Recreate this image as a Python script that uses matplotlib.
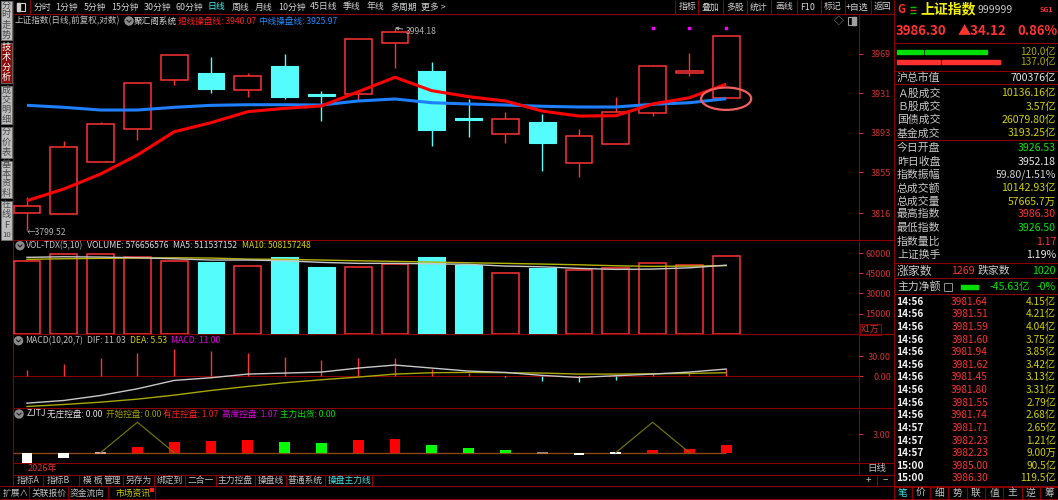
import numpy as np
import matplotlib
matplotlib.use('Agg')
import matplotlib.pyplot as plt
from matplotlib.patches import Rectangle, Ellipse, Circle
from matplotlib.transforms import blended_transform_factory

plt.rcParams['font.family'] = ['Noto Sans CJK SC', 'DejaVu Sans']
plt.rcParams['axes.unicode_minus'] = False

# ---------------- data ----------------
opens  = [3816.3, 3815.0, 3864.8, 3896.8, 3944.0, 3951.0, 3934.1, 3957.7, 3930.5, 3930.8,
          3979.9, 3953.0, 3907.2, 3891.7, 3903.8, 3863.8, 3882.1, 3912.5, 3950.7, 3926.53]
highs  = [3831.7, 3885.3, 3903.3, 3941.4, 3967.7, 3966.4, 3951.0, 3969.0, 3933.1, 3983.1,
          3994.18, 3961.6, 3925.7, 3913.5, 3911.3, 3896.8, 3927.3, 3958.7, 3970.3, 3986.30]
lows   = [3799.52, 3815.0, 3864.8, 3886.2, 3939.2, 3931.8, 3927.9, 3925.7, 3904.8, 3924.7,
          3955.8, 3880.5, 3888.8, 3883.6, 3856.1, 3850.9, 3882.1, 3909.3, 3947.8, 3926.50]
closes = [3822.7, 3879.2, 3901.3, 3941.4, 3967.7, 3935.0, 3947.8, 3927.9, 3929.0, 3983.1,
          3990.5, 3895.9, 3905.8, 3906.2, 3883.0, 3890.4, 3913.5, 3957.5, 3952.18, 3986.30]
short_line = [3827.8, 3839.1, 3853.5, 3871.8, 3894.2, 3902.9, 3913.5, 3916.7, 3919.0, 3932.7,
              3946.6, 3933.7, 3927.9, 3923.8, 3914.1, 3909.3, 3909.6, 3920.9, 3926.9, 3940.07]
mid_line = [3919.6, 3917.7, 3915.1, 3915.1, 3917.7, 3919.6, 3920.2, 3920.2, 3919.9, 3923.8,
            3925.7, 3922.1, 3920.9, 3919.9, 3918.7, 3918.0, 3918.0, 3920.6, 3922.1, 3925.97]
signal_days = [17, 18, 19]
price_ticks = [3816, 3855, 3893, 3931, 3969]

volumes = [54450, 59475, 59250, 57000, 54450, 53250, 50700, 57450, 49950, 49725,
           51750, 57450, 51225, 45000, 49200, 47250, 48975, 52500, 51450, 57665.7]
vol_ma5 = [57000, 57450, 57225, 56700, 55950, 55000, 55000, 54450, 53250, 52500,
           52500, 52200, 51750, 50475, 49950, 48750, 48000, 48225, 49200, 51153.7]
vol_ma10 = [55500, 55950, 56250, 56475, 56700, 56475, 55725, 55500, 55000, 54450,
            54000, 53475, 52950, 52500, 51975, 51450, 50700, 50250, 50475, 50815.7]
vol_ticks = [15000, 30000, 45000, 60000]

macd_dif = [-40, -36, -28.5, -18.5, -6, -2, 3.5, 5, 6.5, 12.5,
            17, 12.5, 8, 6, 1.5, -1.5, 1, 3.5, 6.5, 11.03]
macd_dea = [-45, -42, -38.5, -34, -28, -21, -15, -9.5, -5, -1,
            3.5, 5.5, 6, 5.5, 5, 3.5, 3.5, 4, 4.5, 5.53]
macd_hist = [9, 18.5, 27, 35.5, 41.5, 38.5, 35, 29, 24, 27,
             27, 11.5, 5, -1, -7, -9, -5, 3, 6, 11.0]
macd_ticks = [0, 30]

zj_top = [0, -0.05, 0.15, 0.87, 1.8, 1.85, 2.0, 1.8, 1.64, 2.0,
          2.18, 1.31, 0.82, 0.38, 0.1, 0, 0.1, 0.38, 0.66, 1.2]
zj_bot = [-1.7, -0.95, -0.15, 0, 0, 0, 0, 0, 0, 0,
          0, 0, 0, 0, -0.2, -0.38, -0.25, 0, 0, 0]
zj_kind = ['w', 'w', 'p', 'r', 'r', 'r', 'r', 'g', 'g', 'r',
           'r', 'g', 'g', 'g', 'b', 'w', 'w', 'r', 'r', 'r']
nan = np.nan
zj_start = [nan, nan, 0, 5, 0, nan, nan, nan, nan, nan,
            nan, nan, nan, nan, nan, nan, 0, 5, 0, nan]
zj_ticks = [3]

toolbar_items = ['分时', '1分钟', '5分钟', '15分钟', '30分钟', '60分钟', '日线', '周线', '月线',
                 '10分钟', '45日线', '季线', '年线', '多周期', '更多 >']
toolbar_right = ['指标', '叠加', '多股', '统计', '画线', 'F10', '标记', '+自选', '返回']
side_tabs = [['分', '时', '走', '势'], ['技', '术', '分', '析'], ['成', '交', '明', '细'],
             ['分', '价', '表'], ['基', '本', '资', '料'], ['在', '线', 'F', '10']]

info_labels = ['沪总市值', 'Ａ股成交', 'Ｂ股成交', '国债成交', '基金成交', '今日开盘', '昨日收盘',
               '指数振幅', '总成交额', '总成交量', '最高指数', '最低指数', '指数量比', '上证换手']
info_values = ['700376亿', '10136.16亿', '3.57亿', '26079.80亿', '3193.25亿', '3926.53', '3952.18',
               '59.80/1.51%', '10142.93亿', '57665.7万', '3986.30', '3926.50', '1.17', '1.19%']
tick_times = ['14:56'] * 10 + ['14:57'] * 3 + ['15:00'] * 2
tick_prices = ['3981.64', '3981.51', '3981.59', '3981.60', '3981.94', '3981.62', '3981.45', '3981.80',
               '3981.55', '3981.74', '3981.71', '3982.23', '3982.23', '3985.00', '3986.30']
tick_vols = ['4.15亿', '4.21亿', '4.04亿', '3.75亿', '3.85亿', '3.42亿', '3.13亿', '3.31亿',
             '2.79亿', '2.68亿', '2.65亿', '1.21亿', '9.00万', '90.5亿', '119.5亿']
bottom_tabs = ['指标A', '指标B', '模 板', '管理', '另存为', '绑定到', '二合一', '主力控盘', '操盘线', '普通系统', '操盘主力线']
bottom_tabs2 = ['扩展∧', '关联报价', '资金流向', '市场资讯']
panel_tabs = ['笔', '价', '细', '势', '联', '值', '主', '逆', '筹']

# ---------------- style ----------------
W, H = 1058, 500
RED = '#ff3232'
CYAN = '#54fcfc'
BORDER = '#8c0000'
AXRED = '#d03030'
GREY = '#c0c0c0'
YEL = '#d0d000'
GRN = '#00e600'
MAG = '#e000e0'

fig = plt.figure(figsize=(W / 100, H / 100), dpi=100, facecolor='black')
bg = fig.add_axes([0, 0, 1, 1])
bg.set_xlim(0, W)
bg.set_ylim(H, 0)
bg.axis('off')
bg.set_zorder(0)


def rect(x0, y0, x1, y1):
    return [x0 / W, 1 - y1 / H, (x1 - x0) / W, (y1 - y0) / H]


def txt(x, y, s, c=GREY, fs=6.2, ha='left', w='normal'):
    bg.text(x, y, s, color=c, fontsize=fs, ha=ha, va='center', fontweight=w)


def hl(y, x0, x1, c=BORDER, lw=0.8):
    bg.plot([x0, x1], [y, y], color=c, lw=lw, solid_capstyle='butt')


def vl(x, y0, y1, c=BORDER, lw=0.8):
    bg.plot([x, x], [y0, y1], color=c, lw=lw, solid_capstyle='butt')


def icon(x, y):
    bg.add_patch(Circle((x, y), 4, color='#8c8c8c', zorder=3))
    bg.plot([x - 2, x, x + 2], [y - 0.8, y + 1.2, y - 0.8], color='#202020', lw=0.8, zorder=4)


# ---------------- frame lines ----------------
hl(13.5, 13, 894)
for yy in [240, 334.3, 407.5, 463.3, 474.8]:
    hl(yy, 13, 894)
hl(486.3, 0, W)
hl(499.3, 0, W)
vl(12.7, 0, 486)
vl(859, 14, 475)
vl(894, 0, 500)
vl(29.7, 0, 13.5)
for xx in [674.6, 697.9, 722.6, 746.9, 770.9, 796.9, 820.5, 845.2, 870.5]:
    vl(xx, 0, 13.5)

# ---------------- toolbar ----------------
bg.add_patch(Rectangle((17, 3), 8, 8, fill=False, edgecolor='#d0d0d0', lw=0.8))
bg.add_patch(Rectangle((17, 3), 3, 8, color='#d0d0d0'))
tb_x = [33.8, 55.7, 83.8, 111.5, 143.6, 175.7, 207.8, 231.4, 255, 278.7, 310, 343, 367, 390, 420.6]
for s, x in zip(toolbar_items, tb_x):
    txt(x, 7, s, c=('#40f0f0' if s == '日线' else '#d0d0d0'), fs=6.4)
tr_x = [678.6, 701.6, 725.9, 750, 775, 800, 824, 846, 874]
for s, x in zip(toolbar_right, tr_x):
    txt(x, 7, s, c='#d0d0d0', fs=6.4)

# ---------------- side tabs ----------------
tab_spans = [(0, 40), (42, 83), (85, 124), (126, 158), (160, 198), (200, 240)]
for k, (chars, (y0, y1)) in enumerate(zip(side_tabs, tab_spans)):
    active = (k == 1)
    bg.add_patch(Rectangle((0.5, y0 + 0.5), 11.5, y1 - y0 - 1,
                           facecolor=('#8c0c0c' if active else '#bdbdbd'),
                           edgecolor='#707070', lw=0.6))
    n = len(chars)
    for j, ch in enumerate(chars):
        yy = y0 + (j + 0.5) * (y1 - y0) / n
        bg.text(6.3, yy, ch, color=('#ffffff' if active else '#4a4a4a'), fontsize=(5.6 if ch == '10' else 6.6),
                ha='center', va='center')

# ---------------- chart titles ----------------
txt(15, 21, '上证指数(日线,前复权,对数)', c=GREY)
icon(129, 21)
txt(134, 21, '聚汇阁系统', c='#d8d8d8')
txt(178, 21, f'短线操盘线: {short_line[-1]:.2f}', c='#ff1e1e')
txt(259, 21, f'中线操盘线: {mid_line[-1]:.2f}', c='#1e8cff')
txt(839, 21, '◇', c='#a0a0a0', fs=7, ha='center')
bg.add_patch(Rectangle((848, 17), 8, 8, fill=False, edgecolor='#a0a0a0', lw=0.8))
bg.add_patch(Rectangle((852, 17), 4, 8, color='#a0a0a0'))

icon(20, 245.7)
txt(26, 245.7, 'VOL-TDX(5,10)', c=GREY)
txt(87, 245.7, 'VOLUME: 576656576', c='#d8d8d8')
txt(173, 245.7, 'MA5: 511537152', c='#d8d8d8')
txt(242, 245.7, 'MA10: 508157248', c=YEL)

icon(18.5, 340.7)
txt(25, 340.7, 'MACD(10,20,7)', c=GREY)
txt(87, 340.7, f'DIF: {macd_dif[-1]:.2f}', c=GREY)
txt(130.5, 340.7, f'DEA: {macd_dea[-1]:.2f}', c=YEL)
txt(171, 340.7, f'MACD: {macd_hist[-1]:.2f}', c=MAG)

icon(19, 414)
txt(27, 414, 'ZJTJ', c='#e0e0e0')
txt(47, 414, '无庄控盘: 0.00', c='#e0e0e0')
txt(106, 414, '开始控盘: 0.00', c='#a0a000')
txt(163, 414, '有庄控盘: 1.07', c='#ff2020')
txt(222, 414, '高度控盘: 1.07', c=MAG)
txt(280, 414, '主力出货: 0.00', c='#00e000')

txt(28, 469, '2026年', c='#e03030', fs=6.5)

# axis column extras
bg.add_patch(Rectangle((860, 324), 21, 10.5, fill=False, edgecolor=BORDER, lw=0.8))
txt(870.5, 329.5, 'X1万', c=AXRED, fs=6.3, ha='center')
txt(876.5, 469, '日线', c=GREY, fs=6.8, ha='center')
txt(868, 480.5, '+', c=GREY, fs=7, ha='center')
txt(885, 480.5, '−', c=GREY, fs=7, ha='center')
vl(877, 475, 486.3)

# bottom tabs
bt_x = [17, 47, 83, 104, 126, 157, 188, 218, 258, 288, 328]
for s, x in zip(bottom_tabs, bt_x):
    txt(x, 480.7, s, c=('#40e0e0' if s == '操盘主力线' else GREY), fs=6.3)
for xx in [43.3, 79, 101, 123, 154, 185, 216, 255, 285.7, 325, 372]:
    vl(xx, 474.8, 486.3)
bt2_x = [3, 32, 70, 115]
for s, x in zip(bottom_tabs2, bt2_x):
    txt(x, 493.3, s, c=(YEL if s == '市场资讯' else GREY), fs=6.3)
for xx in [29, 68, 108, 155]:
    vl(xx, 486.3, 499.3)
bg.add_patch(Rectangle((150, 488), 3, 3, color='#ff2020'))

# ---------------- right info panel ----------------
txt(897, 9.5, 'G', c=RED, fs=8, w='bold')
for yy, cc in [(6.5, '#00c000'), (9.5, '#e03030'), (12.5, '#00c000')]:
    hl(yy, 910, 916, c=cc, lw=1)
txt(920, 9.5, '上证指数', c='#f0f000', fs=10, w='bold')
txt(977, 10, '999999', c='#c8c8c8', fs=7.5)
txt(1040, 10, 'SG1', c=RED, fs=5, w='bold')
txt(896, 31, f'{closes[-1]:.2f}', c=RED, fs=9.5, w='bold')
txt(958, 31, f'▲{closes[-1] - closes[-2]:.2f}', c=RED, fs=9.5, w='bold')
txt(1057, 31, f'{(closes[-1] / closes[-2] - 1) * 100:.2f}%', c=RED, fs=9.5, ha='right', w='bold')

for yy in [43.3, 70.7, 84.3, 140, 262.7, 278.3, 294.3, 486.7]:
    hl(yy, 894, W)

bg.add_patch(Rectangle((897, 49.8), 26, 4, color='#00e000'))
bg.add_patch(Rectangle((925, 49.8), 62, 4, color='#00e000'))
bg.add_patch(Rectangle((897, 60.3), 43, 4, color='#ff3030'))
bg.add_patch(Rectangle((942, 60.3), 58, 4, color='#ff3030'))
txt(1056, 51.7, '120.0亿', c='#a8a800', fs=7.3, ha='right')
txt(1056, 62.3, '137.0亿', c='#a8a800', fs=7.3, ha='right')

info_y = [77.7, 93.3, 106.7, 120, 133.3, 148.3, 161.7, 175, 188, 201.7, 214.3, 228, 241.7, 254.7]
info_c = ['#e6e6e6', YEL, YEL, YEL, YEL, GRN, '#e6e6e6', '#d0d0d0', YEL, YEL, RED, GRN, RED, '#e6e6e6']
for lab, val, yy, cc in zip(info_labels, info_values, info_y, info_c):
    txt(897, yy, lab, c='#c8c8c8', fs=7.8)
    txt(1056, yy, val, c=cc, fs=7.6, ha='right')

txt(897, 271, '涨家数', c='#c8c8c8', fs=8.6)
txt(975, 271, '1269', c=RED, fs=7.6, ha='right')
txt(978, 271, '跌家数', c='#c8c8c8', fs=7.8)
txt(1056, 271, '1020', c=GRN, fs=7.6, ha='right')
txt(897, 286.7, '主力净额', c='#c8c8c8', fs=7.8)
bg.add_patch(Rectangle((944, 282.7), 8, 8, fill=False, edgecolor='#909090', lw=0.7))
bg.add_patch(Rectangle((961, 284.7), 17, 4, color='#00e000'))
txt(1030, 286.7, '-45.63亿', c=GRN, fs=7.6, ha='right')
txt(1056, 286.7, '-0%', c=GRN, fs=7.6, ha='right')

for k, (t, p, v) in enumerate(zip(tick_times, tick_prices, tick_vols)):
    yy = 301.7 + 12.62 * k
    txt(896, yy, t, c='#f0f0f0', fs=7.3, w='bold')
    txt(988, yy, p, c=RED, fs=7.3, ha='right')
    txt(1056, yy, v, c=YEL, fs=7.3, ha='right')

for k, s in enumerate(panel_tabs):
    xx = 902.7 + 18.3 * k
    txt(xx, 492.7, s, c=('#40e0e0' if k == 0 else GREY), fs=7, ha='center')
    if k > 0:
        vl(xx - 9.15, 486.7, 499.3)

# ---------------- data axes ----------------
xs = np.arange(len(closes))
XL = (-0.380, 22.609)
PAD_PT = 28 * 0.72
LEN_PT = 4 * 0.72


def setup(ax, ylim, ticks, labels):
    ax.set_zorder(1)
    ax.set_facecolor('none')
    for s in ax.spines.values():
        s.set_visible(False)
    ax.set_xlim(*XL)
    ax.set_ylim(*ylim)
    ax.set_xticks([])
    ax.yaxis.tick_right()
    ax.set_yticks(ticks)
    ax.set_yticklabels(labels)
    ax.tick_params(axis='y', colors=AXRED, length=LEN_PT, width=0.8, pad=PAD_PT, labelsize=6.5)
    for t in ax.get_yticklabels():
        t.set_horizontalalignment('right')


# main price panel
ax = fig.add_axes(rect(13, 14, 859, 240))
setup(ax, (3790.02, 4007.49), price_ticks, [str(v) for v in price_ticks])
bw = 0.73
for i in xs:
    o, h, l, c = opens[i], highs[i], lows[i], closes[i]
    top, bot = max(o, c), min(o, c)
    if c >= o:
        ax.vlines(i, top, h, color=RED, lw=1.0, zorder=2)
        ax.vlines(i, l, bot, color=RED, lw=1.0, zorder=2)
        ax.add_patch(Rectangle((i - bw / 2, bot), bw, max(top - bot, 0.8), facecolor='black',
                               edgecolor=RED, lw=1.1, zorder=2))
    else:
        ax.vlines(i, l, h, color=CYAN, lw=1.0, zorder=2)
        ax.add_patch(Rectangle((i - bw / 2, bot), bw, max(top - bot, 0.8), facecolor=CYAN,
                               edgecolor=CYAN, lw=0.8, zorder=2))
ax.plot(xs, mid_line, color='#1e7fff', lw=2.2, zorder=3, solid_capstyle='butt')
ax.plot(xs, short_line, color='#ff0000', lw=2.2, zorder=3, solid_capstyle='butt')
ax.add_patch(Ellipse((xs[-1], mid_line[-1]), 1.36, 21.5, fill=False, edgecolor='#f06060', lw=1.6, zorder=4))
trans = blended_transform_factory(ax.transData, ax.transAxes)
ax.plot(signal_days, [0.939] * len(signal_days), 's', ms=1.6, color='#ff00ff', transform=trans, clip_on=False)
ax.annotate(f'{highs[10]:.2f}', xy=(10, highs[10]), xytext=(7.5, -3), textcoords='offset points',
            color='#b0b0b0', fontsize=6.2, ha='left', va='center',
            arrowprops=dict(arrowstyle='->', color='#b0b0b0', lw=0.7, shrinkA=0, shrinkB=0, mutation_scale=5))
ax.annotate(f'←{lows[0]:.2f}', xy=(0, lows[0]), xytext=(-0.5, -1.5), textcoords='offset points',
            color='#b0b0b0', fontsize=6.2, ha='left', va='center')

# volume panel
av = fig.add_axes(rect(13, 240, 859, 334.3))
setup(av, (-525, 69975), vol_ticks, [str(v) for v in vol_ticks])
for i in xs:
    if closes[i] >= opens[i]:
        av.add_patch(Rectangle((i - bw / 2, 0), bw, volumes[i], facecolor='black', edgecolor=RED, lw=1.1, zorder=2))
    else:
        av.add_patch(Rectangle((i - bw / 2, 0), bw, volumes[i], facecolor=CYAN, edgecolor=CYAN, lw=0.8, zorder=2))
av.plot(xs, vol_ma10, color='#b4b400', lw=1.0, zorder=3)
av.plot(xs, vol_ma5, color='#c8c8c8', lw=1.0, zorder=3)

# MACD panel
am = fig.add_axes(rect(13, 334.3, 859, 407.5))
setup(am, (-46.5, 63), macd_ticks, [f'{v:.2f}' for v in macd_ticks])
am.axhline(0, color=BORDER, lw=0.8, zorder=1)
am.vlines(xs, 0, macd_hist, colors=[RED if v > 0 else CYAN for v in macd_hist], lw=1.0, zorder=2)
am.plot(xs, macd_dea, color='#a8a800', lw=1.0, zorder=3)
am.plot(xs, macd_dif, color='#c8c8c8', lw=1.0, zorder=3)

# ZJTJ panel
az = fig.add_axes(rect(13, 407.5, 859, 463.3))
setup(az, (-1.754, 7.426), zj_ticks, [f'{v:.2f}' for v in zj_ticks])
kind_col = {'w': '#ffffff', 'r': '#ff0000', 'g': '#00ff00', 'p': '#d0a08c', 'b': '#a07c64'}
az.hlines(0, XL[0], xs[-1], color='#8c4614', lw=1.0, zorder=1)
az.bar(xs, np.array(zj_top) - np.array(zj_bot), bottom=zj_bot, width=0.29,
       color=[kind_col[k] for k in zj_kind], zorder=2)
az.plot(xs, zj_start, color='#707000', lw=0.9, zorder=3)

fig.savefig('out.png', dpi=100, facecolor='black')
